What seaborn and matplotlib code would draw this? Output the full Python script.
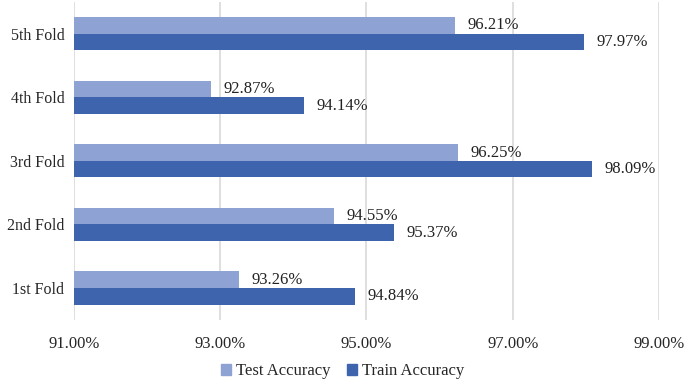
import pandas as pd
import numpy as np
import seaborn as sns
import matplotlib.pyplot as plt
from matplotlib.patches import Patch

# Données
folds = ['5th Fold', '4th Fold', '3rd Fold', '2nd Fold', '1st Fold']
test_acc = [96.21, 92.87, 96.25, 94.55, 93.26]
train_acc = [97.97, 94.14, 98.09, 95.37, 94.84]
series = ['Test Accuracy', 'Train Accuracy']
colors = ['#8FA2D4', '#3D64AD']
xticks = [91, 93, 95, 97, 99]

df = pd.DataFrame({
    'fold': folds * 2,
    'acc': test_acc + train_acc,
    'series': [series[0]] * len(folds) + [series[1]] * len(folds),
})

sns.set_style('white')
plt.rcParams['font.family'] = ['Liberation Serif', 'DejaVu Serif']
fs = 12

fig, ax = plt.subplots(figsize=(6.85, 3.83), dpi=100)
fig.subplots_adjust(left=0.108, right=0.962, top=0.995, bottom=0.165)

sns.barplot(data=df, x='acc', y='fold', hue='series', order=folds,
            hue_order=series, palette=colors, orient='h', width=0.52,
            saturation=1, linewidth=0, ax=ax)

ax.set_xlim(91, 99)
ax.set_xticks(xticks)
ax.set_xticklabels([f'{v:.2f}%' for v in xticks], fontsize=fs)
ax.tick_params(axis='y', labelsize=11.5, length=0, pad=7)
ax.tick_params(axis='x', length=0, pad=12)
ax.xaxis.grid(True, color='#D9D9D9', linewidth=1.2)
ax.set_axisbelow(True)
ax.set_xlabel('')
ax.set_ylabel('')
for s in ax.spines.values():
    s.set_visible(False)

# Etiquettes
for cont in ax.containers:
    ax.bar_label(cont, labels=[f'{b.get_width():.2f}%' for b in cont],
                 padding=9, fontsize=fs, color='#222222')

ax.get_legend().remove()
handles = [Patch(color=c, label=s) for c, s in zip(colors, series)]
fig.legend(handles=handles, loc='lower center', ncol=2, frameon=False,
           fontsize=fs, handlelength=0.6, handleheight=0.6,
           handletextpad=0.3, columnspacing=1.0, bbox_to_anchor=(0.5, -0.03))

plt.savefig('out.png', dpi=100)
